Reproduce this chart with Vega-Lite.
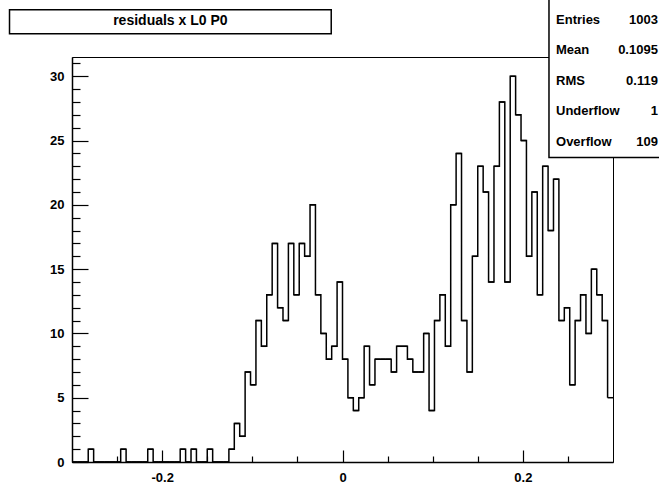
{
  "$schema": "https://vega.github.io/schema/vega-lite/v6.json",
  "width": 541,
  "height": 405,
  "autosize": {"type": "none"},
  "padding": {"left": 72, "top": 57, "right": 46, "bottom": 23},
  "background": "white",
  "config": {
    "font": "Liberation Sans Narrow, Liberation Sans, Arial, sans-serif",
    "view": {"stroke": "black", "strokeWidth": 1}
  },
  "datasets": {
    "hist": [
      {"lo": -0.3, "hi": -0.294, "n": 0},
      {"lo": -0.294, "hi": -0.288, "n": 0},
      {"lo": -0.288, "hi": -0.282, "n": 0},
      {"lo": -0.282, "hi": -0.276, "n": 1},
      {"lo": -0.276, "hi": -0.27, "n": 0},
      {"lo": -0.27, "hi": -0.264, "n": 0},
      {"lo": -0.264, "hi": -0.258, "n": 0},
      {"lo": -0.258, "hi": -0.252, "n": 0},
      {"lo": -0.252, "hi": -0.246, "n": 0},
      {"lo": -0.246, "hi": -0.24, "n": 1},
      {"lo": -0.24, "hi": -0.234, "n": 0},
      {"lo": -0.234, "hi": -0.228, "n": 0},
      {"lo": -0.228, "hi": -0.222, "n": 0},
      {"lo": -0.222, "hi": -0.216, "n": 0},
      {"lo": -0.216, "hi": -0.21, "n": 1},
      {"lo": -0.21, "hi": -0.204, "n": 0},
      {"lo": -0.204, "hi": -0.198, "n": 0},
      {"lo": -0.198, "hi": -0.192, "n": 0},
      {"lo": -0.192, "hi": -0.186, "n": 0},
      {"lo": -0.186, "hi": -0.18, "n": 0},
      {"lo": -0.18, "hi": -0.174, "n": 1},
      {"lo": -0.174, "hi": -0.168, "n": 0},
      {"lo": -0.168, "hi": -0.162, "n": 1},
      {"lo": -0.162, "hi": -0.156, "n": 0},
      {"lo": -0.156, "hi": -0.15, "n": 0},
      {"lo": -0.15, "hi": -0.144, "n": 1},
      {"lo": -0.144, "hi": -0.138, "n": 0},
      {"lo": -0.138, "hi": -0.132, "n": 0},
      {"lo": -0.132, "hi": -0.126, "n": 0},
      {"lo": -0.126, "hi": -0.12, "n": 1},
      {"lo": -0.12, "hi": -0.114, "n": 3},
      {"lo": -0.114, "hi": -0.108, "n": 2},
      {"lo": -0.108, "hi": -0.102, "n": 7},
      {"lo": -0.102, "hi": -0.096, "n": 6},
      {"lo": -0.096, "hi": -0.09, "n": 11},
      {"lo": -0.09, "hi": -0.084, "n": 9},
      {"lo": -0.084, "hi": -0.078, "n": 13},
      {"lo": -0.078, "hi": -0.072, "n": 17},
      {"lo": -0.072, "hi": -0.066, "n": 12},
      {"lo": -0.066, "hi": -0.06, "n": 11},
      {"lo": -0.06, "hi": -0.054, "n": 17},
      {"lo": -0.054, "hi": -0.048, "n": 13},
      {"lo": -0.048, "hi": -0.042, "n": 17},
      {"lo": -0.042, "hi": -0.036, "n": 16},
      {"lo": -0.036, "hi": -0.03, "n": 20},
      {"lo": -0.03, "hi": -0.024, "n": 13},
      {"lo": -0.024, "hi": -0.018, "n": 10},
      {"lo": -0.018, "hi": -0.012, "n": 8},
      {"lo": -0.012, "hi": -0.006, "n": 9},
      {"lo": -0.006, "hi": 0, "n": 14},
      {"lo": 0, "hi": 0.006, "n": 8},
      {"lo": 0.006, "hi": 0.012, "n": 5},
      {"lo": 0.012, "hi": 0.018, "n": 4},
      {"lo": 0.018, "hi": 0.024, "n": 5},
      {"lo": 0.024, "hi": 0.03, "n": 9},
      {"lo": 0.03, "hi": 0.036, "n": 6},
      {"lo": 0.036, "hi": 0.042, "n": 8},
      {"lo": 0.042, "hi": 0.048, "n": 8},
      {"lo": 0.048, "hi": 0.054, "n": 8},
      {"lo": 0.054, "hi": 0.06, "n": 7},
      {"lo": 0.06, "hi": 0.066, "n": 9},
      {"lo": 0.066, "hi": 0.072, "n": 9},
      {"lo": 0.072, "hi": 0.078, "n": 8},
      {"lo": 0.078, "hi": 0.084, "n": 7},
      {"lo": 0.084, "hi": 0.09, "n": 7},
      {"lo": 0.09, "hi": 0.096, "n": 10},
      {"lo": 0.096, "hi": 0.102, "n": 4},
      {"lo": 0.102, "hi": 0.108, "n": 11},
      {"lo": 0.108, "hi": 0.114, "n": 13},
      {"lo": 0.114, "hi": 0.12, "n": 9},
      {"lo": 0.12, "hi": 0.126, "n": 20},
      {"lo": 0.126, "hi": 0.132, "n": 24},
      {"lo": 0.132, "hi": 0.138, "n": 11},
      {"lo": 0.138, "hi": 0.144, "n": 7},
      {"lo": 0.144, "hi": 0.15, "n": 16},
      {"lo": 0.15, "hi": 0.156, "n": 23},
      {"lo": 0.156, "hi": 0.162, "n": 21},
      {"lo": 0.162, "hi": 0.168, "n": 14},
      {"lo": 0.168, "hi": 0.174, "n": 23},
      {"lo": 0.174, "hi": 0.18, "n": 28},
      {"lo": 0.18, "hi": 0.186, "n": 14},
      {"lo": 0.186, "hi": 0.192, "n": 30},
      {"lo": 0.192, "hi": 0.198, "n": 27},
      {"lo": 0.198, "hi": 0.204, "n": 25},
      {"lo": 0.204, "hi": 0.21, "n": 16},
      {"lo": 0.21, "hi": 0.216, "n": 21},
      {"lo": 0.216, "hi": 0.222, "n": 13},
      {"lo": 0.222, "hi": 0.228, "n": 23},
      {"lo": 0.228, "hi": 0.234, "n": 18},
      {"lo": 0.234, "hi": 0.24, "n": 22},
      {"lo": 0.24, "hi": 0.246, "n": 11},
      {"lo": 0.246, "hi": 0.252, "n": 12},
      {"lo": 0.252, "hi": 0.258, "n": 6},
      {"lo": 0.258, "hi": 0.264, "n": 11},
      {"lo": 0.264, "hi": 0.27, "n": 13},
      {"lo": 0.27, "hi": 0.276, "n": 10},
      {"lo": 0.276, "hi": 0.282, "n": 15},
      {"lo": 0.282, "hi": 0.288, "n": 13},
      {"lo": 0.288, "hi": 0.294, "n": 11},
      {"lo": 0.294, "hi": 0.3, "n": 5}
    ],
    "stats": [
      {"stat": "Entries", "value": "1003"},
      {"stat": "Mean", "value": "0.1095"},
      {"stat": "RMS", "value": "0.119"},
      {"stat": "Underflow", "value": "1"},
      {"stat": "Overflow", "value": "109"}
    ],
    "title": [{"text": "residuals x L0 P0"}]
  },
  "layer": [
    {
      "data": {"name": "hist"},
      "encoding": {
        "x": {
          "field": "lo", "type": "quantitative",
          "scale": {"domain": [-0.3, 0.3], "nice": false, "zero": false},
          "axis": {
            "title": null, "grid": false,
            "values": [-0.25, -0.2, -0.15, -0.1, -0.05, 0, 0.05, 0.1, 0.15, 0.2, 0.25],
            "labelExpr": "datum.value == -0.2 || datum.value == 0 || datum.value == 0.2 ? '' + datum.value : ''",
            "tickSize": {"condition": {"test": "datum.value == -0.2 || datum.value == 0 || datum.value == 0.2", "value": -12}, "value": -6},
            "tickColor": "black", "tickWidth": 1.2,
            "domainColor": "black", "domainWidth": 1.5,
            "labelColor": "black", "labelFontSize": 13, "labelFontWeight": "bold",
            "labelPadding": 21, "labelOverlap": false, "labelFlush": false
          }
        },
        "y": {
          "field": "n", "type": "quantitative",
          "scale": {"domain": [0, 31.5], "nice": false},
          "axis": {
            "title": null, "grid": false,
            "values": [0,1,2,3,4,5,6,7,8,9,10,11,12,13,14,15,16,17,18,19,20,21,22,23,24,25,26,27,28,29,30,31],
            "labelExpr": "datum.value % 5 == 0 ? '' + datum.value : ''",
            "tickSize": {"condition": {"test": "datum.value % 5 == 0", "value": -16}, "value": -8},
            "tickColor": "black", "tickWidth": 1.2,
            "domainColor": "black", "domainWidth": 1.5,
            "labelColor": "black", "labelFontSize": 13, "labelFontWeight": "bold",
            "labelPadding": 24, "labelOverlap": false, "labelFlush": false
          }
        }
      },
      "layer": [
        {"mark": {"type": "line", "interpolate": "step-after", "color": "black", "strokeWidth": 1.5}},
        {"mark": {"type": "rule", "color": "black", "strokeWidth": 1.5}, "encoding": {"x2": {"field": "hi"}}}
      ]
    },
    {
      "data": {"name": "title"},
      "layer": [
        {
          "mark": {"type": "rect", "fill": "white", "stroke": "black", "strokeWidth": 1.5},
          "encoding": {
            "x": {"datum": -0.3693, "type": "quantitative"},
            "x2": {"datum": -0.0125},
            "y": {"datum": 35.18, "type": "quantitative", "axis": null, "scale": {"domain": [0, 31.5], "nice": false}},
            "y2": {"datum": 33.3}
          }
        },
        {
          "mark": {"type": "text", "fontSize": 14, "fontWeight": "bold", "color": "black", "align": "center", "baseline": "middle"},
          "encoding": {
            "x": {"datum": -0.1909, "type": "quantitative"},
            "y": {"datum": 34.3, "type": "quantitative", "axis": null, "scale": {"domain": [0, 31.5], "nice": false}},
            "text": {"field": "text"}
          }
        },
        {
          "mark": {"type": "rect", "fill": "white", "stroke": "black", "strokeWidth": 1.5},
          "encoding": {
            "x": {"datum": 0.229, "type": "quantitative"},
            "x2": {"datum": 0.37},
            "y": {"datum": 37, "type": "quantitative", "axis": null, "scale": {"domain": [0, 31.5], "nice": false}},
            "y2": {"datum": 23.68}
          }
        }
      ]
    },
    {
      "data": {"name": "stats"},
      "layer": [
        {
          "mark": {"type": "text", "fontSize": 13, "fontWeight": "bold", "color": "black", "align": "left", "baseline": "middle"},
          "encoding": {
            "x": {"datum": 0.2368, "type": "quantitative"},
            "y": {"field": "stat", "type": "nominal", "sort": null, "axis": null, "scale": {"type": "point", "range": [-37.3, 84.7], "padding": 0}},
            "text": {"field": "stat"}
          }
        },
        {
          "mark": {"type": "text", "fontSize": 13, "fontWeight": "bold", "color": "black", "align": "right", "baseline": "middle"},
          "encoding": {
            "x": {"datum": 0.3498, "type": "quantitative"},
            "y": {"field": "stat", "type": "nominal", "sort": null, "axis": null},
            "text": {"field": "value"}
          }
        }
      ]
    }
  ],
  "resolve": {"scale": {"y": "independent"}, "axis": {"y": "independent"}}
}
